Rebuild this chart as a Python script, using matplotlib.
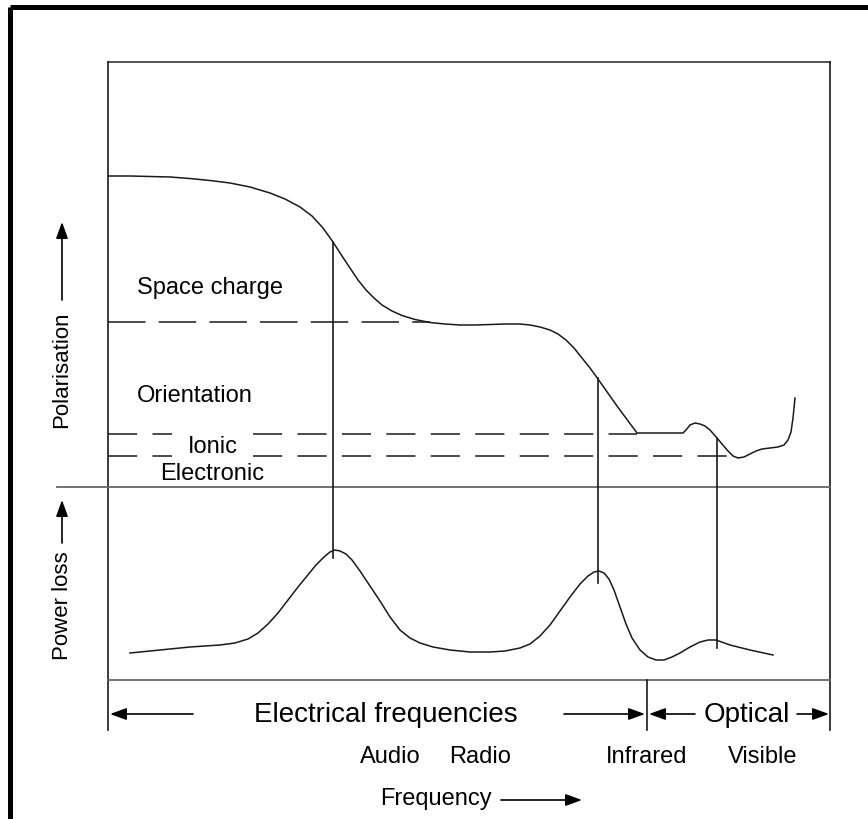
import matplotlib
matplotlib.use('Agg')
import matplotlib.pyplot as plt

plt.rcParams['font.family'] = ['Liberation Sans', 'DejaVu Sans']
plt.rcParams['lines.scale_dashes'] = False

# polarisation curve (pixel coords)
pol_x = [108, 130, 150, 170, 190, 210, 230, 250, 270, 285, 300, 312, 323,
         333, 342, 350, 358, 366, 374, 382, 392, 402, 415, 430, 445, 460,
         475, 490, 505, 520, 530, 540, 550, 558, 566, 574, 582, 590, 598,
         617, 637, 660, 683, 686, 690, 695, 700, 705, 710, 717, 722, 728,
         733, 738, 744, 750, 756, 762, 770, 778, 784, 788, 791, 793, 795]
pol_y = [176, 176, 176.5, 177, 178.5, 180.5, 183, 187, 193, 199, 207, 216,
         228, 242, 256, 268, 280, 290, 298, 305, 311, 315.5, 319.5, 322.5,
         324, 325, 325, 324.5, 324, 324, 325, 327, 330, 334, 340, 348, 358,
         368, 379, 406, 433, 433, 433, 430, 425, 423, 424, 426, 430, 438,
         444, 451, 456, 458, 457, 454, 451, 449, 448, 447, 445, 440, 432,
         418, 398]

# power loss curve
loss_x = [130, 160, 190, 220, 235, 248, 258, 268, 278, 288, 298, 307, 316,
          324, 330, 335, 340, 346, 352, 360, 370, 380, 390, 400, 410, 420,
          433, 450, 470, 490, 505, 520, 530, 540, 550, 560, 570, 580, 588,
          594, 599, 604, 609, 614, 620, 626, 632, 640, 648, 656, 664, 672,
          680, 690, 700, 708, 716, 730, 750, 773]
loss_y = [653, 650, 647, 645, 643, 639, 633, 624, 613, 600, 587, 576, 565,
          557, 552, 550, 551, 554, 560, 571, 586, 601, 617, 630, 638, 643,
          647, 650, 652, 652, 651, 648, 644, 636, 625, 611, 597, 584, 576,
          572, 571, 573, 579, 590, 607, 624, 638, 650, 657, 660, 660, 657,
          653, 647, 642, 640, 640, 645, 650, 655]

# vertical links between the two curves: x, top, bottom
links_x = [333, 598, 717]
links_top = [242, 378, 438]
links_bot = [558, 583, 648]

# dashed level lines: y, x end
levels = ['Space charge', 'Ionic', 'Electronic']
levels_y = [322, 434, 456]
levels_end = [430, 637, 727]

band_labels = ['Audio', 'Radio', 'Infrared', 'Visible']
band_x = [390, 480, 647, 763]

fig = plt.figure(figsize=(8.68, 8.19), dpi=100)
ax = fig.add_axes([0, 0, 1, 1])
ax.set_xlim(0, 868)
ax.set_ylim(819, 0)
ax.axis('off')

K = '#1a1a1a'
G = '#444444'

# outer frame (top and left edges only)
ax.plot([10, 868], [7, 7], color='k', lw=3.6, solid_capstyle='butt')
ax.plot([10, 10], [7, 819], color='k', lw=3.6, solid_capstyle='butt')

# inner frame
ax.plot([108, 830], [62, 62], color=G, lw=1.3)
ax.plot([108, 108], [62, 730], color=K, lw=1.2)
ax.plot([830, 830], [62, 730], color=K, lw=1.2)
ax.plot([57, 830], [487, 487], color='#666666', lw=1.3)
ax.plot([108, 830], [680, 680], color='#666666', lw=1.3)
ax.plot([647, 647], [680, 730], color=K, lw=1.2)

# curves
ax.plot(pol_x, pol_y, color=K, lw=1.1)
ax.plot(loss_x, loss_y, color=K, lw=1.1)

for x, t, b in zip(links_x, links_top, links_bot):
    ax.plot([x, x], [t, b], color=K, lw=1.2)

# dashed levels
ax.plot([108, levels_end[0]], [levels_y[0]] * 2, color=K, lw=1.1,
        dashes=(27, 9.5))
for y, xe in zip(levels_y[1:], levels_end[1:]):
    ax.plot([108, 172], [y, y], color=K, lw=1.1, dashes=(21, 11))
    ax.plot([253, xe], [y, y], color=K, lw=1.1, dashes=(21, 11))

fs = 17
ax.text(137, 294, 'Space charge', fontsize=fs, va='baseline', ha='left')
ax.text(137, 402, 'Orientation', fontsize=fs, va='baseline', ha='left')
ax.text(213, 453, 'Ionic', fontsize=fs, va='baseline', ha='center')
ax.text(212, 480, 'Electronic', fontsize=fs, va='baseline', ha='center')

arr = dict(arrowstyle='-|>,head_length=0.55,head_width=0.2', color='k',
           lw=1.2, shrinkA=0, shrinkB=0, mutation_scale=18)

# y axis labels
ax.text(62, 370, 'Polarisation', fontsize=16, rotation=90,
        ha='center', va='center')
ax.annotate('', xy=(62, 222), xytext=(62, 300), arrowprops=arr)
ax.text(62, 606, 'Power loss', fontsize=16, rotation=90,
        ha='center', va='center')
ax.annotate('', xy=(62, 500), xytext=(62, 543), arrowprops=arr)

# frequency ranges
ax.text(386, 715, 'Electrical frequencies', fontsize=20, ha='center',
        va='center')
ax.annotate('', xy=(110, 714), xytext=(193, 714), arrowprops=arr)
ax.annotate('', xy=(645, 714), xytext=(564, 714), arrowprops=arr)
ax.text(747, 715, 'Optical', fontsize=20, ha='center', va='center')
ax.annotate('', xy=(649, 714), xytext=(695, 714), arrowprops=arr)
ax.annotate('', xy=(829, 714), xytext=(797, 714), arrowprops=arr)

for lab, x in zip(band_labels, band_x):
    ax.text(x, 757, lab, fontsize=fs, ha='center', va='center')

ax.text(436, 799, 'Frequency', fontsize=fs, ha='center', va='center')
ax.annotate('', xy=(582, 800), xytext=(501, 800), arrowprops=arr)

fig.savefig('out.png', dpi=100)
